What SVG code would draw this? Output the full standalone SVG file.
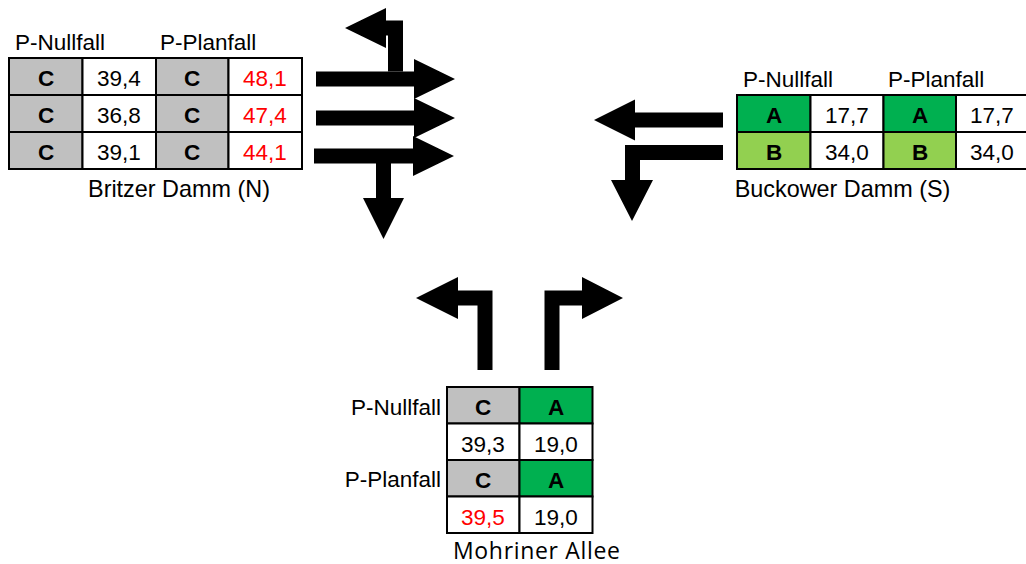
<svg xmlns="http://www.w3.org/2000/svg" width="1026" height="564" viewBox="0 0 1026 564">
<style>
.c{stroke:#000;stroke-width:2}
.g{fill:#C0C0C0}
.w{fill:#FFFFFF}
.a{fill:#00B050}
.b{fill:#92D050}
.t{font-family:"Liberation Sans",Arial,sans-serif;font-size:22.5px;fill:#000}
.l{font-family:"Liberation Sans",Arial,sans-serif;font-size:23.4px;fill:#000;text-anchor:middle}
.m{text-anchor:middle}
.bo{font-weight:bold}
.r{fill:#FF0000}
.n{font-family:"Open Sans","Noto Sans",sans-serif;font-size:23px;fill:#000}
.arr{fill:#000}
</style>
<rect width="1026" height="564" fill="#fff"/>
<g id="britzer-damm-n">
<text class="t" x="15" y="50">P-Nullfall</text>
<text class="t" x="160" y="50">P-Planfall</text>
<rect class="c g" x="9" y="58" width="73.5" height="37"/>
<rect class="c w" x="82.5" y="58" width="73.5" height="37"/>
<rect class="c g" x="156" y="58" width="72.5" height="37"/>
<rect class="c w" x="228.5" y="58" width="73.5" height="37"/>
<rect class="c g" x="9" y="95" width="73.5" height="37"/>
<rect class="c w" x="82.5" y="95" width="73.5" height="37"/>
<rect class="c g" x="156" y="95" width="72.5" height="37"/>
<rect class="c w" x="228.5" y="95" width="73.5" height="37"/>
<rect class="c g" x="9" y="132" width="73.5" height="37"/>
<rect class="c w" x="82.5" y="132" width="73.5" height="37"/>
<rect class="c g" x="156" y="132" width="72.5" height="37"/>
<rect class="c w" x="228.5" y="132" width="73.5" height="37"/>
<text class="t m bo" x="46" y="86">C</text>
<text class="t m" x="119" y="86">39,4</text>
<text class="t m bo" x="192" y="86">C</text>
<text class="t m r" x="265" y="86">48,1</text>
<text class="t m bo" x="46" y="123">C</text>
<text class="t m" x="119" y="123">36,8</text>
<text class="t m bo" x="192" y="123">C</text>
<text class="t m r" x="265" y="123">47,4</text>
<text class="t m bo" x="46" y="160">C</text>
<text class="t m" x="119" y="160">39,1</text>
<text class="t m bo" x="192" y="160">C</text>
<text class="t m r" x="265" y="160">44,1</text>
<text class="l" x="179" y="197">Britzer Damm (N)</text>
</g>
<g id="buckower-damm-s">
<text class="t" x="743" y="87">P-Nullfall</text>
<text class="t" x="888" y="87">P-Planfall</text>
<rect class="c a" x="737" y="95" width="73.5" height="37"/>
<rect class="c w" x="810.5" y="95" width="73" height="37"/>
<rect class="c a" x="883.5" y="95" width="72.5" height="37"/>
<rect class="c w" x="956" y="95" width="73" height="37"/>
<rect class="c b" x="737" y="132" width="73.5" height="37"/>
<rect class="c w" x="810.5" y="132" width="73" height="37"/>
<rect class="c b" x="883.5" y="132" width="72.5" height="37"/>
<rect class="c w" x="956" y="132" width="73" height="37"/>
<text class="t m bo" x="774" y="123">A</text>
<text class="t m" x="847" y="123">17,7</text>
<text class="t m bo" x="920" y="123">A</text>
<text class="t m" x="992" y="123">17,7</text>
<text class="t m bo" x="774" y="160">B</text>
<text class="t m" x="847" y="160">34,0</text>
<text class="t m bo" x="920" y="160">B</text>
<text class="t m" x="992" y="160">34,0</text>
<text class="l" x="842.5" y="197">Buckower Damm (S)</text>
</g>
<g id="mohriner-allee">
<text class="t" x="441" y="415" text-anchor="end">P-Nullfall</text>
<text class="t" x="441" y="487" text-anchor="end">P-Planfall</text>
<rect class="c g" x="447" y="387" width="72.5" height="36.5"/>
<rect class="c a" x="519.5" y="387" width="73" height="36.5"/>
<rect class="c w" x="447" y="423.5" width="72.5" height="36.5"/>
<rect class="c w" x="519.5" y="423.5" width="73" height="36.5"/>
<rect class="c g" x="447" y="460" width="72.5" height="36.5"/>
<rect class="c a" x="519.5" y="460" width="73" height="36.5"/>
<rect class="c w" x="447" y="496.5" width="72.5" height="36.5"/>
<rect class="c w" x="519.5" y="496.5" width="73" height="36.5"/>
<text class="t m bo" x="483" y="415">C</text>
<text class="t m bo" x="556" y="415">A</text>
<text class="t m" x="483" y="451.5">39,3</text>
<text class="t m" x="556" y="451.5">19,0</text>
<text class="t m bo" x="483" y="488">C</text>
<text class="t m bo" x="556" y="488">A</text>
<text class="t m r" x="483" y="524.5">39,5</text>
<text class="t m" x="556" y="524.5">19,0</text>
<text class="n" x="453" y="558.5" textLength="167" lengthAdjust="spacing">Mohriner Allee</text>
</g>
<g id="connectors">
<path class="arr" d="M316,71.5 H414 V59 L455,79 L414,99 V86.5 H316 Z"/>
<path class="arr" d="M316,110.5 H414 V98 L455,118 L414,138 V125.5 H316 Z"/>
<path class="arr" d="M314,148.5 H413 V136 L454,156 L413,176 V163.5 H314 Z"/>
<path class="arr" d="M403,71.5 V20.5 H386 V8 L345,28 L386,48 V35.5 H388 V71.5 Z"/>
<path class="arr" d="M376,163 H391 V198 H404 L383.5,239 L363,198 H376 Z"/>
<path class="arr" d="M723,112.5 H635 V99.5 L594,120 L635,140.5 V127.5 H723 Z"/>
<path class="arr" d="M723,145 H625 V180 H611 L632,221 L653,180 H640 V160 H723 Z"/>
<path class="arr" d="M492.5,370 V290.5 H458 V277 L416,298 L458,319 V305.5 H477.5 V370 Z"/>
<path class="arr" d="M544.5,370 V290.5 H582 V277 L623,298 L582,319 V305.5 H559.5 V370 Z"/>
</g>
</svg>
